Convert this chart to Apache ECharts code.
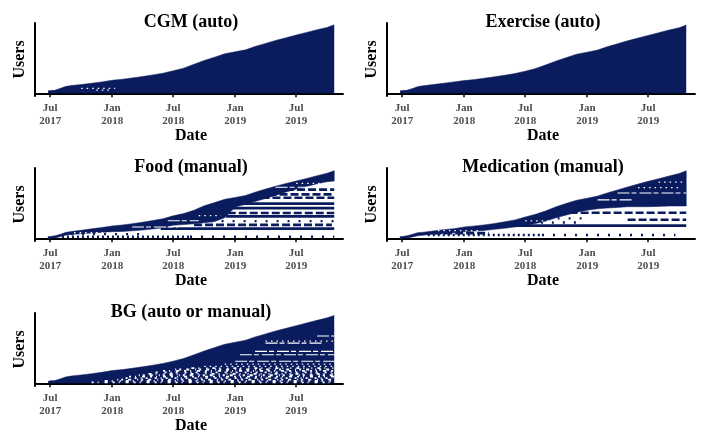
<!DOCTYPE html>
<html>
<head>
<meta charset="utf-8">
<script src="https://cdn.jsdelivr.net/npm/echarts@6.0.0/dist/echarts.min.js"></script>
<style>
  html, body { margin: 0; padding: 0; background: #fff; }
  #chart { width: 706px; height: 432px; }
</style>
</head>
<body>
<div id="chart"></div>
<script>
var dates = ['2017-06-25', '2017-07-01', '2017-07-15', '2017-08-01', '2017-08-15', '2017-09-01',
  '2017-10-01', '2017-11-01', '2017-12-01', '2018-01-01', '2018-02-01', '2018-03-01',
  '2018-04-01', '2018-05-01', '2018-06-01', '2018-07-01', '2018-08-01', '2018-09-01',
  '2018-10-01', '2018-11-01', '2018-12-01', '2019-01-01', '2019-02-01', '2019-03-01',
  '2019-04-01', '2019-05-01', '2019-06-01', '2019-07-01', '2019-08-01', '2019-09-01',
  '2019-10-01', '2019-10-22'];
var tickDates = ['2017-07-01', '2018-01-01', '2018-07-01', '2019-01-01', '2019-07-01'];
var monthNames = ['Jan', 'Feb', 'Mar', 'Apr', 'May', 'Jun', 'Jul', 'Aug', 'Sep', 'Oct', 'Nov', 'Dec'];

// number of users enrolled (top edge) per panel
var cgmTop = [35, 39, 44, 73, 98, 112, 127, 146, 166, 190, 205, 224, 244, 268, 293, 327,
  366, 424, 478, 527, 576, 605, 634, 683, 727, 771, 810, 849, 888, 927, 961, 1000];
var exerciseTop = [35, 39, 44, 70, 95, 110, 127, 146, 166, 185, 200, 220, 240, 263, 288, 322,
  360, 415, 470, 522, 570, 600, 630, 678, 722, 766, 805, 844, 883, 922, 956, 995];
var foodTop = [25, 25, 35, 59, 85, 98, 117, 137, 156, 180, 195, 212, 234, 258, 285, 327,
  360, 410, 473, 520, 568, 595, 625, 672, 717, 760, 800, 834, 873, 912, 950, 985];
var medTop = [25, 25, 35, 59, 80, 88, 107, 125, 140, 165, 180, 195, 215, 240, 268, 310,
  350, 400, 460, 510, 555, 585, 615, 660, 705, 748, 790, 830, 868, 908, 945, 985];
var bgTop = [30, 35, 40, 65, 90, 105, 122, 140, 160, 185, 200, 218, 240, 263, 290, 322,
  362, 415, 470, 520, 568, 598, 628, 675, 720, 762, 802, 840, 880, 918, 955, 990];

// lower edge of the dense band of recent loggers (manual panels)
var foodLow = [0, 0, 0, 25, 45, 55, 65, 75, 85, 95, 100, 108, 120, 135, 155, 190,
  200, 210, 225, 245, 300, 455, 495, 535, 580, 625, 675, 715, 755, 795, 825, 835];
var medLow = [0, 0, 0, 20, 35, 45, 60, 70, 80, 95, 105, 115, 130, 145, 165, 185,
  215, 250, 300, 340, 380, 410, 430, 440, 450, 460, 460, 460, 465, 470, 470, 470];

// long-term users below the band: [from, to, user, kind]
var foodRows = [
  ['2017-08-05', '2018-08-20', 22, 'dot'],
  ['2018-08-20', '2019-10-22', 22, 'sparse'],
  ['2017-09-01', '2018-04-01', 60, 'sparse'],
  ['2018-05-25', '2019-10-22', 140, 'solid'],
  ['2018-09-01', '2019-10-15', 195, 'dash'],
  ['2018-10-20', '2019-10-22', 250, 'sparse'],
  ['2018-12-05', '2019-10-22', 320, 'solid'],
  ['2018-12-10', '2019-10-22', 368, 'dash'],
  ['2018-11-20', '2019-10-22', 440, 'solid'],
  ['2019-01-05', '2019-10-22', 505, 'solid'],
  ['2019-03-20', '2019-10-22', 590, 'dash'],
  ['2019-04-10', '2019-10-22', 640, 'dash'],
  ['2019-06-01', '2019-10-22', 710, 'dash']
];
var medRows = [
  ['2017-09-15', '2018-08-20', 48, 'dot'],
  ['2018-08-20', '2019-09-20', 48, 'sparse'],
  ['2017-10-01', '2018-03-15', 75, 'dash'],
  ['2018-04-20', '2019-10-22', 185, 'solid'],
  ['2018-07-15', '2018-12-01', 230, 'sparse'],
  ['2018-08-01', '2019-01-10', 290, 'sparse'],
  ['2019-05-01', '2019-10-22', 270, 'dash'],
  ['2018-11-10', '2019-10-22', 372, 'dash']
];

// blank streaks (users with missing days): [from, to, user, kind]
var cgmGaps = [
  ['2017-10-01', '2018-01-10', 70, 'speck'],
  ['2017-11-15', '2017-12-25', 45, 'speck']
];
var foodGaps = [
  ['2017-09-10', '2017-12-20', 80, 'speck'],
  ['2018-03-01', '2018-07-15', 165, 'streak'],
  ['2018-06-15', '2018-09-15', 255, 'streak'],
  ['2018-09-15', '2018-11-20', 330, 'speck'],
  ['2019-05-01', '2019-10-10', 745, 'streak'],
  ['2019-07-01', '2019-10-22', 800, 'speck']
];
var medGaps = [
  ['2017-10-15', '2018-02-15', 110, 'speck'],
  ['2018-07-01', '2018-10-15', 255, 'speck'],
  ['2019-02-01', '2019-05-15', 560, 'streak'],
  ['2019-04-01', '2019-10-22', 660, 'streak'],
  ['2019-06-01', '2019-10-10', 740, 'speck'],
  ['2019-08-01', '2019-10-22', 820, 'speck']
];
var bgGaps = [
  ['2017-11-01', '2019-10-22', 12, 'speckA'],
  ['2017-12-01', '2019-10-22', 33, 'speckB'],
  ['2018-01-10', '2019-10-22', 54, 'speckC'],
  ['2018-02-01', '2019-10-22', 75, 'speckD'],
  ['2018-02-20', '2019-10-22', 96, 'speckA'],
  ['2018-03-15', '2019-10-22', 117, 'speckC'],
  ['2018-04-10', '2019-10-22', 138, 'speckB'],
  ['2018-05-01', '2019-10-22', 159, 'speckD'],
  ['2018-06-01', '2019-10-22', 180, 'speckA'],
  ['2018-07-01', '2019-10-22', 201, 'speckC'],
  ['2018-08-15', '2019-10-22', 222, 'speckB'],
  ['2018-10-01', '2019-10-22', 245, 'speck'],
  ['2018-12-01', '2019-10-22', 280, 'speck'],
  ['2019-01-01', '2019-10-22', 320, 'streak'],
  ['2019-01-15', '2019-10-22', 415, 'streak'],
  ['2019-03-01', '2019-10-22', 465, 'streak'],
  ['2019-04-01', '2019-09-20', 585, 'streak'],
  ['2019-04-01', '2019-10-22', 615, 'speck'],
  ['2019-09-01', '2019-10-22', 690, 'streak']
];

var navy = '#0a1c5e';
var serif = '"Liberation Serif", "Times New Roman", serif';
var rowKinds = {
  solid: { dash: null, width: 2.8 },
  dash: { dash: [8, 3], width: 2.6 },
  dot: { dash: [2, 3], width: 2.4 },
  sparse: { dash: [2, 9], width: 2.4 },
  streak: { dash: [12, 2, 5, 3], width: 1.1 },
  speck: { dash: [1.5, 4], width: 1.3 },
  speckA: { dash: [2, 4, 1, 6, 3, 5], width: 1.8, offset: 0 },
  speckB: { dash: [1, 5, 3, 4, 1, 7], width: 1.8, offset: 3 },
  speckC: { dash: [3, 6, 1, 3, 2, 5], width: 1.8, offset: 7 },
  speckD: { dash: [1, 4, 2, 7, 2, 4], width: 1.8, offset: 2 }
};

function ts(s) {
  return Date.parse(s + 'T00:00:00Z');
}
var tickTs = tickDates.map(ts);

var panels = [
  { title: 'CGM (auto)', left: 35, top: 23, upper: cgmTop, gaps: cgmGaps },
  { title: 'Exercise (auto)', left: 387, top: 23, upper: exerciseTop },
  { title: 'Food (manual)', left: 35, top: 168, upper: foodTop, lower: foodLow, rows: foodRows, gaps: foodGaps },
  { title: 'Medication (manual)', left: 387, top: 168, upper: medTop, lower: medLow, rows: medRows, gaps: medGaps },
  { title: 'BG (auto or manual)', left: 35, top: 313, upper: bgTop, gaps: bgGaps }
];

function areaSeries(i, values) {
  return {
    type: 'line',
    xAxisIndex: i,
    yAxisIndex: i,
    z: 3,
    silent: true,
    symbol: 'none',
    lineStyle: { color: navy, width: 0.5 },
    areaStyle: { color: navy, opacity: 1 },
    data: dates.map(function (d, k) { return [ts(d), values[k]]; })
  };
}

// one polygon between the upper and lower edges
function bandSeries(i, upper, lower) {
  return {
    type: 'custom',
    xAxisIndex: i,
    yAxisIndex: i,
    z: 3,
    silent: true,
    clip: true,
    data: [[ts(dates[0]), upper[0]]],
    renderItem: function (params, api) {
      var pts = [];
      dates.forEach(function (d, k) { pts.push(api.coord([ts(d), upper[k]])); });
      for (var k = dates.length - 1; k >= 0; k--) pts.push(api.coord([ts(dates[k]), lower[k]]));
      return {
        type: 'polygon',
        shape: { points: pts },
        style: { fill: navy, stroke: navy, lineWidth: 0.5 }
      };
    }
  };
}

function rowSeries(i, rows, color, z) {
  return {
    type: 'custom',
    xAxisIndex: i,
    yAxisIndex: i,
    z: z,
    silent: true,
    clip: true,
    encode: { x: [0, 1], y: 2 },
    data: rows.map(function (r) { return [ts(r[0]), ts(r[1]), r[2]]; }),
    renderItem: function (params, api) {
      var kind = rowKinds[rows[params.dataIndex][3]];
      var a = api.coord([api.value(0), api.value(2)]);
      var b = api.coord([api.value(1), api.value(2)]);
      var style = { stroke: color, lineWidth: kind.width };
      if (kind.dash) style.lineDash = kind.dash;
      if (kind.offset) style.lineDashOffset = kind.offset;
      return {
        type: 'line',
        shape: { x1: a[0], y1: a[1], x2: b[0], y2: b[1] },
        style: style
      };
    }
  };
}

function label(text, x, y, size, rotate) {
  return {
    type: 'text',
    x: x,
    y: y,
    rotation: rotate ? Math.PI / 2 : 0,
    style: {
      text: text,
      font: 'bold ' + size + 'px ' + serif,
      fill: '#000',
      align: 'center',
      verticalAlign: 'middle',
      textAlign: 'center',
      textVerticalAlign: 'middle'
    }
  };
}

var option = { animation: false, grid: [], xAxis: [], yAxis: [], series: [], graphic: [] };

panels.forEach(function (p, i) {
  var w = 308, h = 73;
  option.grid.push({ left: p.left, top: p.top, width: w, height: h });
  // dates as timestamps on a plain value axis; ticks only at Jan / Jul
  option.xAxis.push({
    type: 'value',
    gridIndex: i,
    min: ts('2017-05-17'),
    max: ts('2019-11-17'),
    splitLine: { show: false },
    axisLine: { lineStyle: { color: '#000', width: 2 } },
    axisTick: { customValues: tickTs, length: 4, lineStyle: { color: '#000', width: 1.5 } },
    axisLabel: {
      customValues: tickTs,
      formatter: function (v) {
        var d = new Date(v);
        return monthNames[d.getUTCMonth()] + '\n' + d.getUTCFullYear();
      },
      color: '#4d4d4d',
      fontFamily: serif,
      fontWeight: 'bold',
      fontSize: 11,
      lineHeight: 13,
      margin: 6
    }
  });
  option.yAxis.push({
    type: 'value',
    gridIndex: i,
    min: -40,
    max: 1025,
    splitLine: { show: false },
    axisTick: { show: false },
    axisLabel: { show: false },
    axisLine: { show: true, lineStyle: { color: '#000', width: 2 } }
  });

  if (p.lower) option.series.push(bandSeries(i, p.upper, p.lower));
  else option.series.push(areaSeries(i, p.upper));
  if (p.rows) option.series.push(rowSeries(i, p.rows, navy, 5));
  if (p.gaps) option.series.push(rowSeries(i, p.gaps, '#ffffff', 6));

  var cx = p.left + 156;
  option.graphic.push(label(p.title, cx, p.top - 1, 18, false));
  option.graphic.push(label('Users', p.left - 15, p.top + h / 2, 16, true));
  option.graphic.push(label('Date', cx, p.top + 113, 16, false));
});

var chart = echarts.init(document.getElementById('chart'));
chart.setOption(option);
</script>
</body>
</html>
